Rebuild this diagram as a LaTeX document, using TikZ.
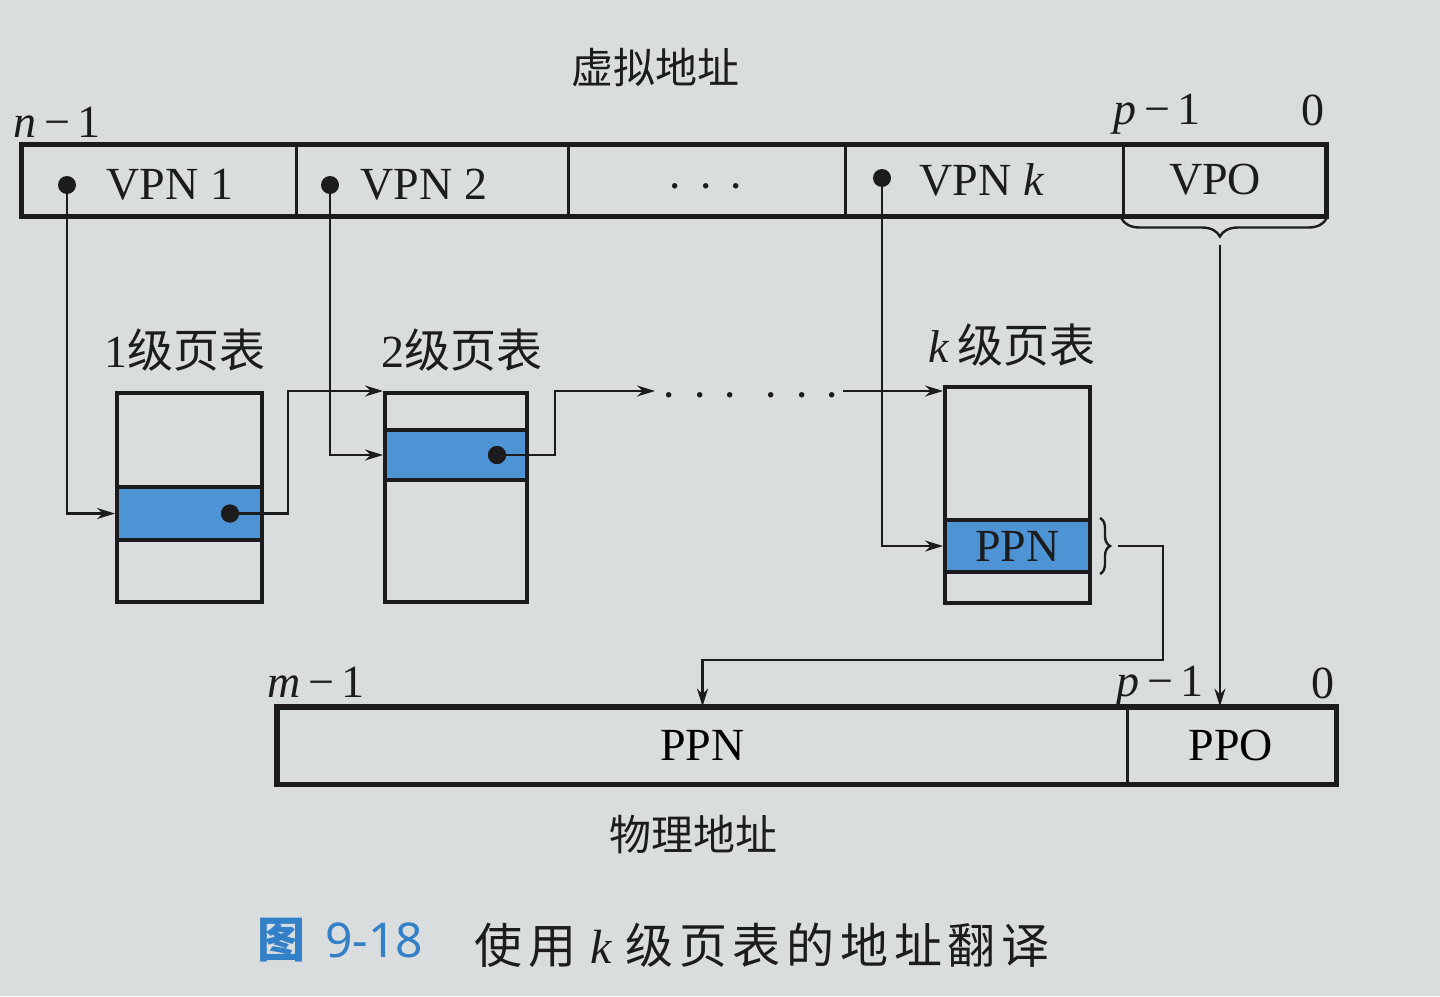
\documentclass[tikz,border=0pt]{standalone}
\usepackage{fontspec}
\setmainfont{Liberation Serif}
\newfontfamily\cjk{Noto Sans CJK SC}
\newfontfamily\cjkls[LetterSpace=12]{Noto Sans CJK SC}
\newfontfamily\capsans{Noto Sans}
\usetikzlibrary{arrows.meta,decorations.pathreplacing,calc}
\definecolor{paper}{RGB}{218,221,221}
\definecolor{rowblue}{RGB}{78,148,212}
\definecolor{capblue}{RGB}{50,128,200}
\definecolor{ink}{RGB}{28,28,30}
\begin{document}
\begin{tikzpicture}[x=0.5pt,y=-0.5pt,
  cell/.style={draw=ink, line width=1.5pt, inner sep=0, minimum height=35pt},
  pcell/.style={draw=ink, line width=1.5pt, inner sep=0, minimum height=37.5pt, font=\fontsize{23}{26}\selectfont},
  lbl/.style={inner sep=0, text=ink, font=\fontsize{23}{26}\selectfont},
  cjklbl/.style={inner sep=0, text=ink, font=\cjk\fontsize{21}{24}\selectfont},
  dotn/.style={circle, fill=ink, inner sep=0, minimum size=9pt},
  conn/.style={draw=ink, line width=1.2pt},
  arr/.style={conn, -{Stealth[length=9pt,width=5.5pt]}},
  tbl/.style={draw=ink, line width=2pt, inner sep=0},
  rowbox/.style={draw=ink, line width=2pt, fill=rowblue, inner sep=0},
  brc/.style={draw=ink, line width=1.2pt, decorate, decoration={brace, amplitude=5pt}},
]
\fill[paper] (0,0) rectangle (1440,996);
\useasboundingbox (0,0) rectangle (1440,996);

% ---- virtual address ----
\node[cjklbl] (vaddr) at (655,68) {虚拟地址};
\node[lbl] (n1) at (57,122) {\textit{n}\,−\,1};
\node[lbl] (p1a) at (1157,114) {\textit{p}\,−\,1};
\node[lbl] (z1) at (1313,110) {0};

\node[cell, minimum width=137pt] (c1) at (159,180) {};
\node[cell, minimum width=136pt] (c2) at (432,180) {};
\node[cell, minimum width=138.5pt] (c3) at (706.5,180) {};
\node[cell, minimum width=139pt] (c4) at (984,180) {};
\node[cell, minimum width=101pt] (c5) at (1224,180) {};
\draw[ink, line width=2pt] (c1.north west) rectangle (c5.south east);

\node[lbl] (tv1) at (170,185) {VPN 1};
\node[lbl] (tv2) at (424,185) {VPN 2};
\node[lbl] (tv3) at (706,193) {·\,\,·\,\,·};
\node[lbl] (tvk) at (982,180) {VPN \textit{k}};
\node[lbl] (tvo) at (1215,180) {VPO};

\node[dotn] (d1) at (67,185) {};
\node[dotn] (d2) at (330,185) {};
\node[dotn] (dk) at (882,178) {};

% ---- page tables ----
\node[cjklbl] (l1) at (185,350) {\fontsize{23}{26}\rmfamily 1\cjk 级页表};
\node[cjklbl] (l2) at (462,350) {\fontsize{23}{26}\rmfamily 2\cjk 级页表};
\node[cjklbl] (lk) at (1012,345) {\fontsize{23}{26}\rmfamily\itshape k\,\cjk 级页表};

\node[tbl, minimum width=72.5pt, minimum height=104.5pt] (t1) at (189.5,497.5) {};
\node[rowbox, minimum width=72.5pt, minimum height=26.5pt] (r1) at (189.5,513.5) {};
\node[tbl, minimum width=71pt, minimum height=104.5pt] (t2) at (456,497.5) {};
\node[rowbox, minimum width=71pt, minimum height=25pt] (r2) at (456,455) {};
\node[tbl, minimum width=72.5pt, minimum height=108pt] (tk) at (1017.5,495) {};
\node[rowbox, minimum width=72.5pt, minimum height=26pt, font=\fontsize{23}{26}\selectfont, text=ink] (rk) at (1017.5,546) {PPN};

\node[dotn] (e1) at (230,513.5) {};
\node[dotn] (e2) at (497,455) {};

\node[lbl] (dots1) at (700,402) {·\,\,·\,\,·};
\node[lbl] (dots2) at (802,402) {·\,\,·\,\,·};
\coordinate (g1) at (655,391);
\coordinate (g2) at (843,391);

% ---- physical address ----
\node[lbl] (m1) at (316,682) {\textit{m}\,−\,1};
\node[lbl] (p1b) at (1160,686) {\textit{p}\,−\,1};
\node[lbl] (z2) at (1323,683) {0};
\node[pcell, minimum width=424.5pt] (pn) at (702.5,745.5) {PPN};
\node[pcell, minimum width=104pt] (po) at (1231,745.5) {PPO};
\draw[ink, line width=2.4pt] (pn.north west) rectangle (po.south east);
\node[cjklbl] (paddr) at (693,835) {物理地址};

% ---- connectors ----
\draw[arr] (d1.center) |- (r1.west);
\draw[arr] (e1.center) -- ++(58,0) |- (t2.north west);
\draw[arr] (d2.center) |- (r2.west);
\draw[arr] (e2.center) -- ++(58,0) |- (g1);
\draw[arr] (g2) -- (g2 -| tk.west);
\draw[arr] (dk.center) |- (rk.west);

\draw[brc] ([xshift=4pt]rk.north east) -- ([xshift=4pt]rk.south east) coordinate[midway, xshift=9pt] (bk);
\draw[arr] (bk) -| (1163,660) -| (pn.north);

\draw[brc, decoration={brace, amplitude=9pt, aspect=0.52}] ([yshift=-1pt]c5.south east) -- ([yshift=-1pt]c5.south west) coordinate[pos=0.52, yshift=-13pt] (bv);
\draw[arr] (bv) -- (bv |- po.north);

% redraw dots on top
\node[dotn] at (e1) {};
\node[dotn] at (e2) {};

% ---- caption ----
\node[inner sep=0, text=capblue, font=\capsans\fontsize{24}{28}\selectfont] (cap1) at (340,940) {{\cjk\bfseries 图}\hspace{10pt}9-18};
\node[inner sep=0, text=ink, font=\fontsize{24}{28}\selectfont] (cap2) at (762,945) {{\cjkls 使用}\hspace{7pt}{\rmfamily\itshape k}\hspace{7pt}{\cjkls 级页表的地址翻译}};
\end{tikzpicture}
\end{document}
